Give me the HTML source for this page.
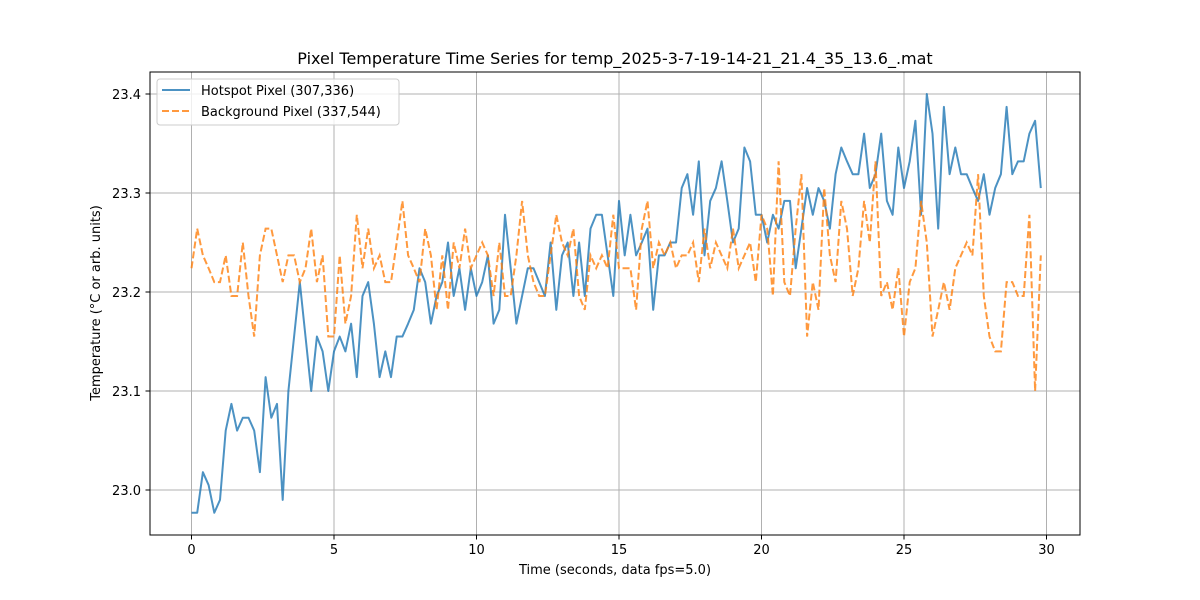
<!DOCTYPE html>
<html><head><meta charset="utf-8">
<style>
body{margin:0;background:#fff;}
svg{display:block;font-family:"DejaVu Sans","Liberation Sans",sans-serif;}
</style></head>
<body>
<svg id="chart" width="1200" height="600" viewBox="0 0 1200 600" xmlns="http://www.w3.org/2000/svg">
<rect width="1200" height="600" fill="#fff"/>
<g id="grid"></g>
<g id="series"></g>
<rect x="150" y="72" width="930" height="463" fill="none" stroke="#000" stroke-width="1"/>
<g id="ticks"></g>
<text x="615" y="64" text-anchor="middle" font-size="16">Pixel Temperature Time Series for temp_2025-3-7-19-14-21_21.4_35_13.6_.mat</text>
<text x="615" y="574" text-anchor="middle" font-size="13">Time (seconds, data fps=5.0)</text>
<text transform="translate(100,303) rotate(-90)" text-anchor="middle" font-size="13">Temperature (°C or arb. units)</text>
<g>
<rect x="157" y="79" width="242" height="46" rx="3" fill="#fff" fill-opacity="0.8" stroke="#ccc"/>
<line x1="162" y1="90" x2="190" y2="90" stroke="#1f77b4" stroke-opacity="0.8" stroke-width="2"/>
<text x="201" y="95" font-size="13">Hotspot Pixel (307,336)</text>
<line x1="162" y1="111" x2="190" y2="111" stroke="#ff7f0e" stroke-opacity="0.8" stroke-width="2" stroke-dasharray="7,3"/>
<text x="201" y="116" font-size="13">Background Pixel (337,544)</text>
</g>
</svg>
<script>
const xTicks=[0,5,10,15,20,25,30];
const yTicks=[23.0,23.1,23.2,23.3,23.4];
const yTickLabels=["23.0","23.1","23.2","23.3","23.4"];
const timeStep=0.2;
const hotspot=[22.977,22.977,23.018,23.005,22.977,22.99,23.06,23.087,23.06,23.073,23.073,23.06,23.018,23.114,23.073,23.087,22.99,23.10,23.155,23.21,23.155,23.10,23.155,23.14,23.10,23.14,23.155,23.14,23.168,23.114,23.196,23.21,23.168,23.114,23.14,23.114,23.155,23.155,23.168,23.182,23.224,23.21,23.168,23.196,23.21,23.25,23.196,23.224,23.182,23.224,23.196,23.21,23.237,23.168,23.182,23.278,23.224,23.168,23.196,23.224,23.224,23.21,23.196,23.25,23.182,23.237,23.25,23.196,23.25,23.196,23.264,23.278,23.278,23.237,23.196,23.292,23.237,23.278,23.237,23.25,23.264,23.182,23.237,23.237,23.25,23.25,23.305,23.319,23.278,23.332,23.237,23.292,23.305,23.332,23.292,23.25,23.264,23.346,23.332,23.278,23.278,23.25,23.278,23.264,23.292,23.292,23.224,23.264,23.305,23.278,23.305,23.292,23.264,23.319,23.346,23.332,23.319,23.319,23.36,23.305,23.319,23.36,23.292,23.278,23.346,23.305,23.332,23.373,23.278,23.40,23.36,23.264,23.387,23.319,23.346,23.319,23.319,23.305,23.292,23.319,23.278,23.305,23.319,23.387,23.319,23.332,23.332,23.36,23.373,23.305];
const background=[23.224,23.264,23.237,23.224,23.21,23.21,23.237,23.196,23.196,23.25,23.196,23.155,23.237,23.264,23.264,23.237,23.21,23.237,23.237,23.21,23.224,23.264,23.21,23.237,23.155,23.155,23.237,23.168,23.196,23.278,23.224,23.264,23.224,23.237,23.21,23.21,23.25,23.292,23.237,23.224,23.21,23.264,23.237,23.182,23.237,23.182,23.25,23.224,23.264,23.224,23.237,23.25,23.237,23.196,23.25,23.196,23.196,23.237,23.292,23.237,23.21,23.196,23.196,23.237,23.278,23.25,23.237,23.264,23.196,23.182,23.237,23.224,23.237,23.224,23.278,23.224,23.224,23.224,23.182,23.264,23.292,23.224,23.25,23.237,23.25,23.224,23.237,23.237,23.25,23.21,23.264,23.224,23.25,23.237,23.224,23.264,23.224,23.237,23.25,23.21,23.278,23.264,23.196,23.332,23.21,23.196,23.264,23.319,23.155,23.21,23.182,23.305,23.237,23.21,23.292,23.264,23.196,23.224,23.292,23.25,23.332,23.196,23.21,23.182,23.224,23.155,23.21,23.224,23.292,23.25,23.155,23.182,23.21,23.182,23.224,23.237,23.25,23.237,23.319,23.196,23.155,23.14,23.14,23.21,23.21,23.196,23.196,23.278,23.10,23.237];

const NS="http://www.w3.org/2000/svg";
function xScale(t){return 191.5+t*28.5;}
function yScale(v){return 490-(v-23.0)*990;}
const grid=document.getElementById('grid');
const ticks=document.getElementById('ticks');
function mk(tag,attrs,parent){const e=document.createElementNS(NS,tag);for(const k in attrs)e.setAttribute(k,attrs[k]);parent.appendChild(e);return e;}
xTicks.forEach(t=>{
  const x=xScale(t);
  const g=mk('line',{x1:x,x2:x,y1:72,y2:535,stroke:'#b0b0b0','stroke-width':1},grid);
  
  
  const tk=mk('line',{x1:x,x2:x,y1:535,y2:539.5,stroke:'#000'},ticks);
  
  
  const lb=mk('text',{x:x,y:554,'text-anchor':'middle','font-size':13},ticks);
  
  
  lb.textContent=String(t);
});
yTicks.forEach((v,i)=>{
  const y=yScale(v);
  const g=mk('line',{x1:150,x2:1080,y1:y,y2:y,stroke:'#b0b0b0','stroke-width':1},grid);
  
  
  const tk=mk('line',{x1:145.5,x2:150,y1:y,y2:y,stroke:'#000'},ticks);
  
  
  const lb=mk('text',{x:141,y:y+5,'text-anchor':'end','font-size':13},ticks);
  
  
  lb.textContent=yTickLabels[i];
});
const series=document.getElementById('series');
function pts(arr){return arr.map((v,i)=>xScale(i*timeStep).toFixed(2)+','+yScale(v).toFixed(2)).join(' ');}
const l1=mk('polyline',{points:pts(hotspot),fill:'none',stroke:'#1f77b4','stroke-opacity':0.8,'stroke-width':2,'stroke-linejoin':'round'},series);


const l2=mk('polyline',{points:pts(background),fill:'none',stroke:'#ff7f0e','stroke-opacity':0.8,'stroke-width':2,'stroke-dasharray':'7,3'},series);


</script>
</body></html>
